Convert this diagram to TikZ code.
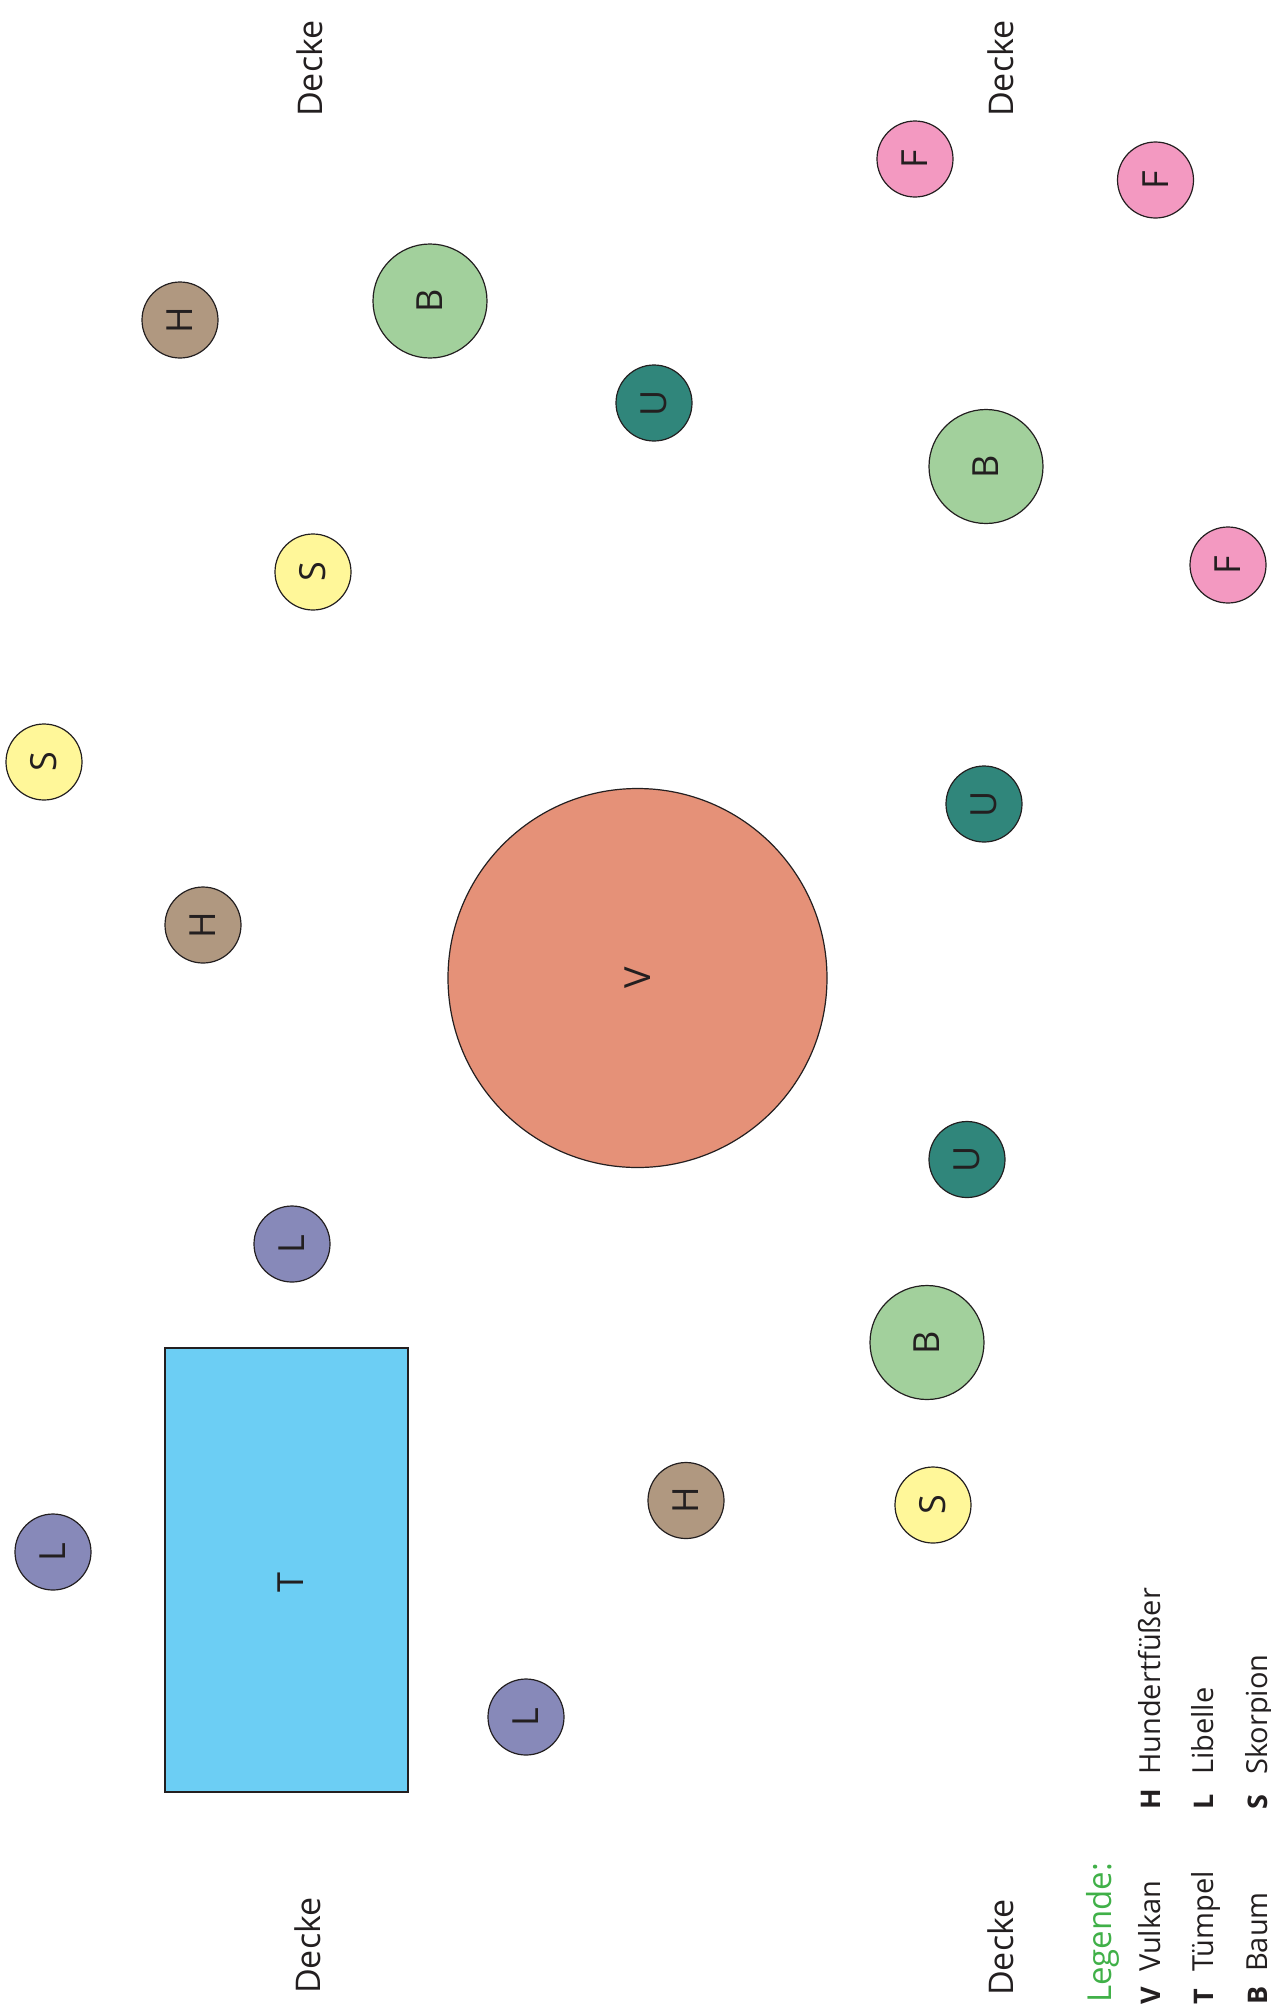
\documentclass[tikz,border=0pt]{standalone}
\usepackage{fontspec}
\setmainfont{Open Sans}
\definecolor{cH}{RGB}{176,152,128}
\definecolor{cB}{RGB}{162,208,156}
\definecolor{cU}{RGB}{48,134,123}
\definecolor{cS}{RGB}{255,247,153}
\definecolor{cF}{RGB}{243,153,193}
\definecolor{cL}{RGB}{135,137,185}
\definecolor{cV}{RGB}{229,145,120}
\definecolor{cT}{RGB}{108,206,244}
\definecolor{cLeg}{RGB}{64,176,72}
\definecolor{ink}{RGB}{35,31,32}
\begin{document}
\begin{tikzpicture}[x=1pt,y=-1pt,
  blob/.style={circle,draw=ink,line width=1.2pt,inner sep=0pt,rotate=90,text=ink,
    font=\fontsize{36}{42}\selectfont},
  small/.style={blob,minimum size=76pt},
  big/.style={blob,minimum size=114pt},
  lbl/.style={rotate=90,anchor=base west,inner sep=0pt,text=ink,font=\fontsize{34}{40}\selectfont},
  leg/.style={rotate=90,anchor=base west,inner sep=0pt,text=ink,font=\fontsize{29}{35}\selectfont},
  legb/.style={leg,font=\fontsize{27}{33}\selectfont\bfseries}]
\useasboundingbox (0,0) rectangle (1271,2011);
% ceiling labels
\node[lbl] (d1) at (322,117) {Decke};
\node[lbl] (d2) at (1013,117) {Decke};
\node[lbl] (d3) at (320,1994) {Decke};
\node[lbl] (d4) at (1013,1996) {Decke};
% pond
\node[rectangle,draw=ink,line width=1.4pt,fill=cT,minimum width=243pt,minimum height=444pt,inner sep=0pt] (tp) at (286.5,1570) {};
\node[rotate=90,text=ink,inner sep=0pt,font=\fontsize{36}{42}\selectfont] (tl) at (290.5,1583) {T};
% volcano
\node[blob,fill=cV,minimum size=379pt] (v) at (637.5,978) {V};
% objects
\node[small,fill=cH] (h1) at (180,320) {H};
\node[big,fill=cB] (b1) at (430,301) {B};
\node[small,fill=cU] (u1) at (654,403) {U};
\node[small,fill=cS] (s1) at (313,572) {S};
\node[small,fill=cF] (f1) at (915,159) {F};
\node[small,fill=cF] (f2) at (1155.5,180) {F};
\node[big,fill=cB] (b2) at (986,466.5) {B};
\node[small,fill=cF] (f3) at (1228,565) {F};
\node[small,fill=cS] (s2) at (44,762) {S};
\node[small,fill=cH] (h2) at (203,925) {H};
\node[small,fill=cU] (u2) at (984,804) {U};
\node[small,fill=cU] (u3) at (967,1159.5) {U};
\node[small,fill=cL] (l1) at (292,1244) {L};
\node[big,fill=cB] (b3) at (927,1342.5) {B};
\node[small,fill=cH] (h3) at (686,1500.5) {H};
\node[small,fill=cS] (s3) at (933,1505) {S};
\node[small,fill=cL] (l2) at (53,1552) {L};
\node[small,fill=cL] (l3) at (526,1717) {L};
% legend
\node[rotate=90,anchor=base west,inner sep=0pt,text=cLeg,font=\fontsize{33}{38}\selectfont] (lg) at (1111,2003) {Legende:};
\node[legb] (kv) at (1160,2005) {V};
\node[leg] (tv) at (1160,1972) {Vulkan};
\node[legb] (kt) at (1213,2005) {T};
\node[leg] (tt) at (1213,1972) {Tümpel};
\node[legb] (kb) at (1267,2005) {B};
\node[leg] (tb) at (1267,1972) {Baum};
\node[legb] (kh) at (1160,1810) {H};
\node[leg] (th) at (1160,1775) {Hundertfüßer};
\node[legb] (kl) at (1213,1810) {L};
\node[leg] (tl2) at (1213,1775) {Libelle};
\node[legb] (ks) at (1267,1810) {S};
\node[leg] (ts) at (1267,1775) {Skorpion};
\end{tikzpicture}
\end{document}
